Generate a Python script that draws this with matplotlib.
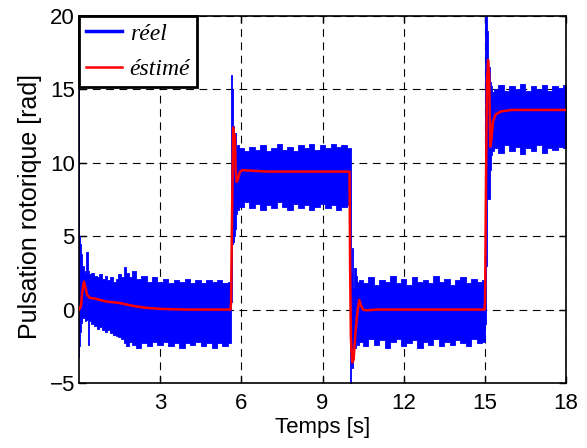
import numpy as np
import matplotlib
matplotlib.use("Agg")
import matplotlib.pyplot as plt

# envelope of the noisy "réel" signal (upper / lower edge)
t_env = [0.0, 0.02, 0.05, 0.1, 0.15, 0.2, 0.25, 0.3, 0.35, 0.4, 0.5, 0.6, 0.7, 0.8, 0.9,
         1.0, 1.1, 1.2, 1.3, 1.4, 1.5, 1.6, 1.7, 1.8, 1.9, 2.0, 2.2, 2.4, 2.6, 2.8,
         3.0, 3.2, 3.4, 3.6, 3.8, 4.0, 4.2, 4.4, 4.6, 4.8, 5.0, 5.2, 5.4, 5.6,
         5.62, 5.64, 5.67, 5.7, 5.73, 5.77, 5.8, 5.85,
         6.0, 6.2, 6.4, 6.6, 6.8, 7.0, 7.2, 7.4, 7.6, 7.8, 8.0, 8.2, 8.4, 8.6, 8.8,
         9.0, 9.2, 9.4, 9.6, 9.8, 10.0,
         10.02, 10.05, 10.08, 10.1, 10.15, 10.2, 10.25, 10.3,
         10.4, 10.6, 10.8, 11.0, 11.2, 11.4, 11.6, 11.8, 12.0, 12.2, 12.4, 12.6,
         12.8, 13.0, 13.2, 13.4, 13.6, 13.8, 14.0, 14.2, 14.4, 14.6, 14.8, 15.0,
         15.02, 15.05, 15.1, 15.15, 15.2, 15.25, 15.3,
         15.4, 15.6, 15.8, 16.0, 16.2, 16.4, 16.6, 16.8, 17.0, 17.2, 17.4, 17.6, 17.8, 18.0]
env_hi = [20.0, 5.0, 4.5, 3.8, 3.0, 2.6, 2.5, 3.9, 2.6, 2.4, 2.5, 2.3, 2.2, 2.4, 2.1,
          2.3, 2.0, 2.2, 1.9, 2.1, 2.4, 2.2, 2.9, 2.5, 2.2, 2.6, 2.1, 2.3, 1.9, 2.2,
          1.9, 2.1, 1.8, 2.0, 1.9, 2.1, 1.8, 2.0, 1.8, 2.0, 1.9, 2.0, 1.8, 1.9,
          3.0, 16.0, 15.0, 12.5, 11.5, 12.0, 11.0, 11.2,
          11.0, 10.8, 11.1, 10.9, 11.2, 10.8, 11.0, 11.3, 10.9, 11.1, 10.8, 11.2, 11.0, 11.3, 10.9,
          11.2, 11.0, 11.3, 11.1, 11.2, 11.0,
          11.0, 4.0, 2.5, 4.2, 1.5, 2.8, 2.3, 1.9,
          2.0, 1.8, 2.2, 1.7, 2.0, 1.9, 2.3, 1.8, 2.1, 1.7, 2.2, 1.9,
          2.0, 1.8, 2.3, 1.9, 2.1, 1.7, 2.0, 2.2, 1.8, 2.1, 1.9, 2.0,
          20.5, 20.5, 19.0, 16.5, 15.5, 15.2, 14.8,
          15.0, 15.3, 14.9, 15.2, 15.0, 15.4, 14.9, 15.2, 15.0, 15.3, 14.9, 15.2, 15.1, 15.3]
env_lo = [-3.2, -2.5, -1.5, -0.9, -0.6, -0.5, -0.8, -0.7, -2.4, -0.8, -1.0, -1.1, -1.3, -1.2, -1.4,
          -1.5, -1.4, -1.6, -1.7, -1.8, -1.9, -2.0, -2.3, -2.5, -2.2, -2.4, -2.6, -2.3, -2.5, -2.2,
          -2.4, -2.2, -2.5, -2.3, -2.6, -2.3, -2.4, -2.2, -2.5, -2.3, -2.6, -2.3, -2.5, -2.3,
          -0.5, 0.5, 4.5, 4.6, 5.0, 5.5, 6.5, 6.8,
          7.0, 7.3, 6.9, 7.2, 6.8, 7.1, 6.9, 7.3, 7.0, 6.8, 7.2, 6.9, 7.1, 6.8, 7.0,
          7.2, 6.9, 7.1, 6.8, 7.0, 7.1,
          -5.5, -5.5, -3.8, -4.0, -3.2, -2.6, -2.2, -2.4,
          -2.2, -2.5, -2.0, -2.4, -2.1, -2.6, -2.2, -2.0, -2.5, -2.3, -2.1, -2.6,
          -2.2, -2.4, -2.0, -2.5, -2.2, -2.4, -2.1, -2.3, -2.5, -2.0, -2.3, -2.2,
          -1.0, 3.0, 7.5, 7.5, 9.5, 10.5, 10.8,
          11.0, 10.7, 11.2, 10.8, 11.1, 10.6, 11.0, 10.8, 11.2, 10.7, 11.0, 10.9, 11.1, 11.0]

# "estimé" signal
t_est = [0.0, 0.07, 0.12, 0.18, 0.24, 0.3, 0.4, 0.6, 0.8, 1.0, 1.5, 2.0, 2.5, 3.0, 4.0, 5.0,
         5.6, 5.62, 5.66, 5.7, 5.73, 5.76, 5.79, 5.83, 5.88, 5.95, 6.05, 6.5, 7.0, 8.0, 9.0,
         10.0, 10.02, 10.05, 10.1, 10.15, 10.22, 10.3, 10.36, 10.42, 10.5, 10.6, 11.0, 12.0,
         13.0, 14.0, 14.99, 15.01, 15.04, 15.08, 15.12, 15.16, 15.2, 15.24, 15.3, 15.4, 15.6,
         16.0, 17.0, 18.0]
est = [0.0, 0.2, 1.2, 1.9, 1.5, 1.0, 0.8, 0.75, 0.65, 0.55, 0.45, 0.25, 0.12, 0.05, 0.0, 0.0,
       0.0, 0.5, 7.0, 12.4, 11.5, 11.9, 9.5, 8.7, 8.9, 9.4, 9.5, 9.45, 9.4, 9.4, 9.4,
       9.4, 3.0, -2.0, -3.6, -3.4, -1.5, 0.0, 0.65, 0.3, 0.0, -0.05, 0.0, 0.0,
       0.0, 0.0, 0.0, 0.6, 8.0, 15.5, 17.0, 16.0, 11.1, 11.5, 12.8, 13.3, 13.5,
       13.6, 13.6, 13.6]

xticks = [3, 6, 9, 12, 15, 18]
yticks = [-5, 0, 5, 10, 15, 20]

sans = ['Liberation Sans', 'DejaVu Sans']

fig = plt.figure(figsize=(5.87, 4.48), dpi=100)
ax = fig.add_axes([79/587, 1 - 383/448, (566 - 79)/587, (383 - 16)/448])

ax.fill_between(t_env, env_lo, env_hi, step='mid', color='#0000ff', linewidth=0.6, zorder=2)
ax.plot([], [], color='#0000ff', linewidth=2.5, label='réel')
ax.plot(t_est, est, color='#ff0000', linewidth=1.8, zorder=3, label='éstimé')

ax.set_xlim(0, 18)
ax.set_ylim(-5, 20)
ax.set_xticks(xticks)
ax.set_yticks(yticks)
ax.tick_params(direction='in', top=True, right=True, length=5, width=1)
ax.tick_params(axis='x', pad=7)
ax.tick_params(axis='y', pad=3)
for lab in ax.get_xticklabels() + ax.get_yticklabels():
    lab.set_family(sans)
    lab.set_fontsize(16)
for s in ax.spines.values():
    s.set_linewidth(1.2)

ax.set_axisbelow(True)
ax.grid(True, color='black', linestyle=(0, (7, 5)), linewidth=0.8)

ax.set_xlabel('Temps [s]', family=sans, fontsize=16, labelpad=2)
ax.set_ylabel('Pulsation rotorique [rad]', family=sans, fontsize=18)
ax.yaxis.set_label_coords(-0.075, 0.48)

leg = ax.legend(loc='upper left', borderaxespad=0, fancybox=False, framealpha=1,
                edgecolor='black', handlelength=1.5, handletextpad=0.35,
                borderpad=0.3, labelspacing=0.6,
                prop={'family': ['Liberation Serif', 'DejaVu Serif'], 'style': 'italic', 'size': 17})
leg.get_frame().set_linewidth(2)
leg.set_zorder(5)

fig.savefig('out.png', dpi=100)
